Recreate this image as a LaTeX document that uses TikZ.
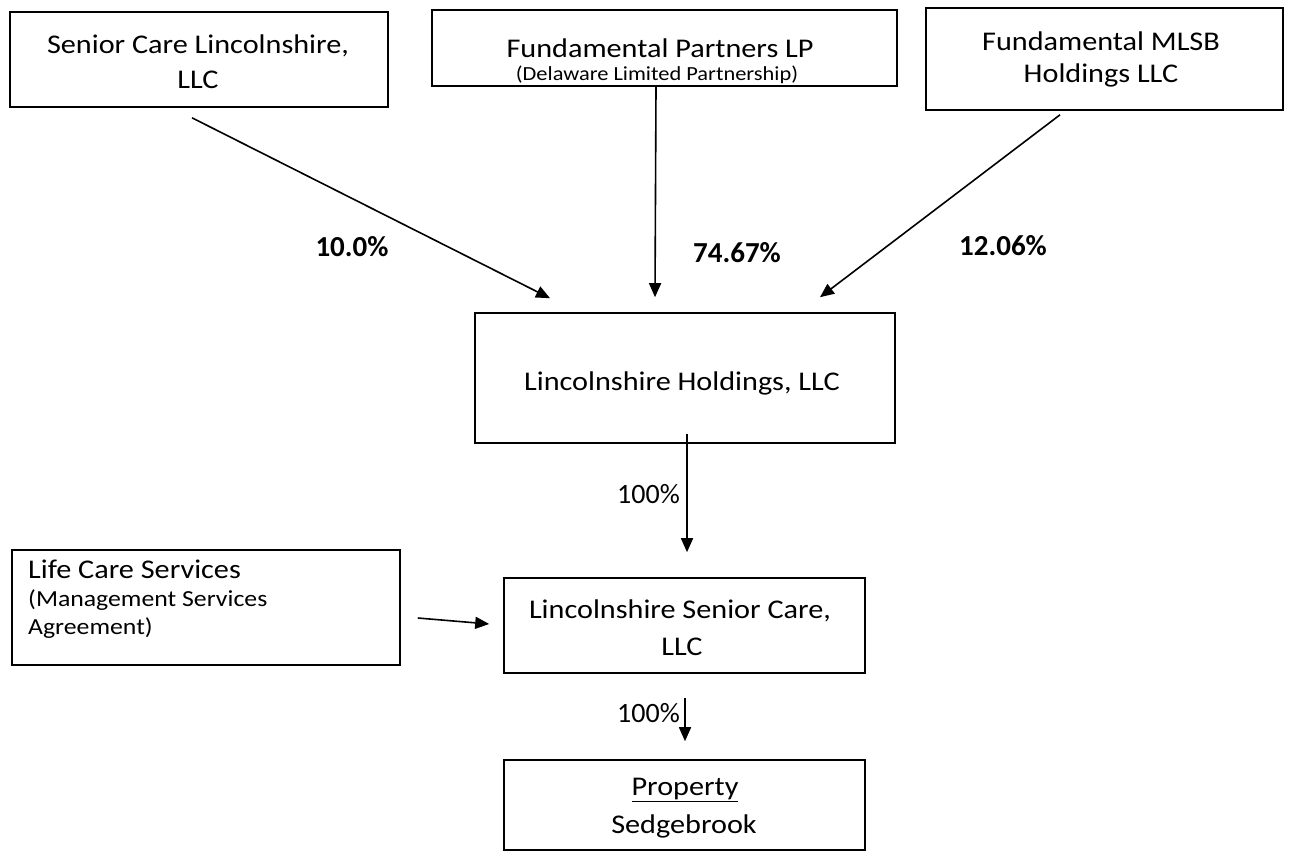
\documentclass[tikz,border=0pt]{standalone}
\usepackage{fontspec}
\setmainfont{Carlito}
\newfontfamily\bxf{Carlito}[FakeStretch=1.12]
\usetikzlibrary{arrows.meta}
\begin{document}
\begin{tikzpicture}[x=1pt,y=-1pt,
  box/.style={draw, line width=1.6pt, inner sep=0pt},
  txt/.style={font=\bxf\fontsize{27}{32}\selectfont, inner sep=0pt, anchor=base},
  small/.style={font=\bxf\fontsize{23}{28}\selectfont, inner sep=0pt, anchor=base west},
  pct/.style={font=\bfseries\fontsize{29}{34}\selectfont, inner sep=0pt, anchor=base},
  hund/.style={font=\fontsize{28}{33}\selectfont, inner sep=0pt, anchor=base east},
  arr/.style={line width=1.6pt, -{Triangle[length=14pt,width=12pt]}}
]
\useasboundingbox (0,0) rectangle (1289,852);
% boxes
\node[box, minimum width=378pt, minimum height=95pt] (A) at (199,59.5) {};
\node[box, minimum width=465pt, minimum height=76pt] (B) at (664.5,48) {};
\node[box, minimum width=357pt, minimum height=102pt] (C) at (1104.5,59) {};
\node[box, minimum width=420pt, minimum height=130pt] (D) at (685,378) {};
\node[box, minimum width=388pt, minimum height=115pt] (E) at (206,607.5) {};
\node[box, minimum width=361pt, minimum height=95pt] (F) at (684.5,625.5) {};
\node[box, minimum width=361pt, minimum height=90pt] (G) at (684.5,805) {};
% texts
\node[txt] (tA1) at (198,53) {Senior Care Lincolnshire,};
\node[txt] (tA2) at (198,88) {LLC};
\node[txt] (tB1) at (660,57) {Fundamental Partners LP};
\node[txt, font=\bxf\fontsize{20}{24}\selectfont] (tB2) at (657,80) {(Delaware Limited Partnership)};
\node[txt] (tC1) at (1101,50) {Fundamental MLSB};
\node[txt] (tC2) at (1101,82) {Holdings LLC};
\node[txt] (tD) at (682,390) {Lincolnshire Holdings, LLC};
\node[txt, anchor=base west] (tE1) at (28,578) {Life Care Services};
\node[small] (tE2) at (28,606) {(Management Services};
\node[small] (tE3) at (28,634) {Agreement)};
\node[txt] (tF1) at (680,618) {Lincolnshire Senior Care,};
\node[txt] (tF2) at (682,655) {LLC};
\node[txt] (tG1) at (685,795) {\underline{Property}};
\node[txt] (tG2) at (684,833) {Sedgebrook};
% percentages
\node[pct] (p1) at (352,256) {10.0\%};
\node[pct] (p2) at (737,262) {74.67\%};
\node[pct] (p3) at (1003,255) {12.06\%};
\node[hund] (p4) at (680,503) {100\%};
\node[hund] (p5) at (680,722) {100\%};
% connectors
\draw[arr] ([shift={(-7,10)}]A.south) -- ([shift={(-135,-14)}]D.north);
\draw[arr] ([shift={(-8.5,0)}]B.south) -- ([shift={(-30,-15)}]D.north);
\draw[arr] ([shift={(-44.5,4)}]C.south) -- ([shift={(135,-15)}]D.north);
\draw[arr] ([shift={(2,-10)}]D.south) -- ([shift={(2.5,-25)}]F.north);
\draw[arr] ([shift={(0.5,24)}]F.south) -- ([shift={(0.5,-18)}]G.north);
\draw[arr] ([shift={(17,10.5)}]E.east) -- ([shift={(-14,-1.5)}]F.west);
\end{tikzpicture}
\end{document}
